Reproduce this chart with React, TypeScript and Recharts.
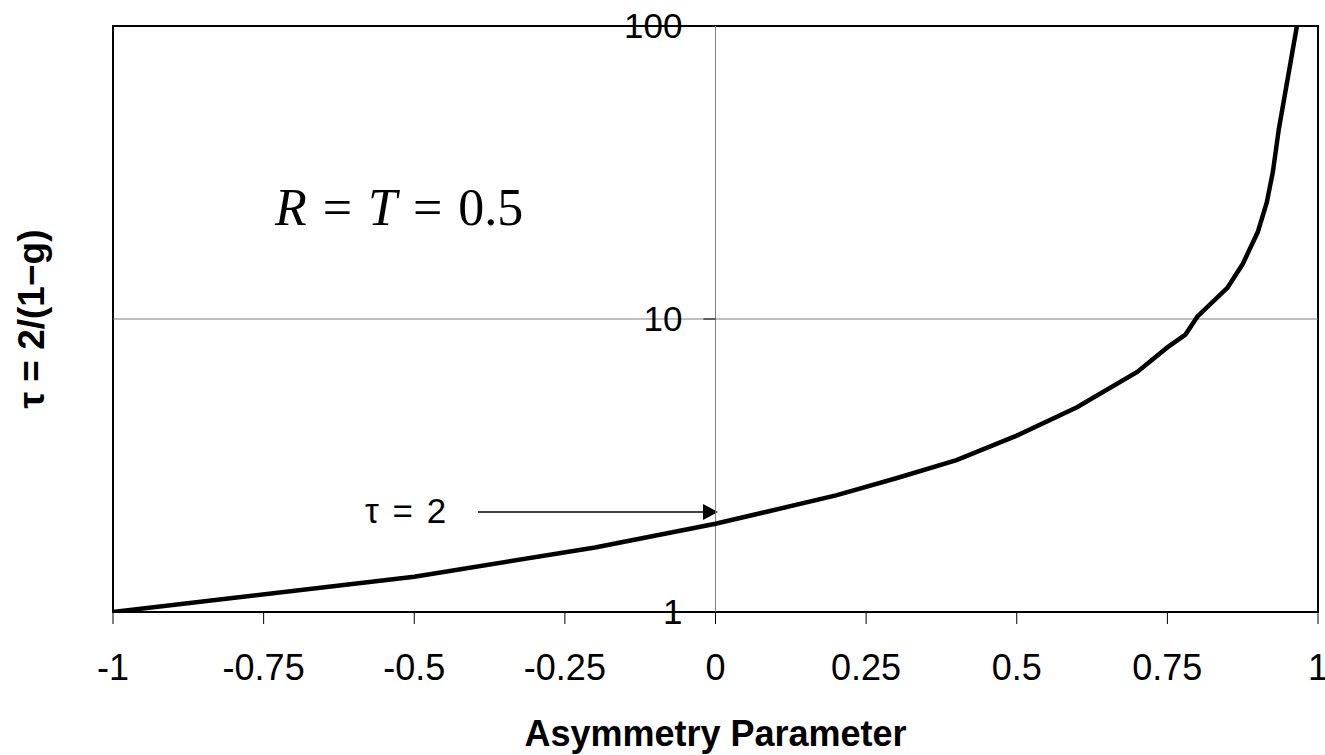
import { LineChart, Line, XAxis, YAxis, ReferenceLine, ReferenceArea, ReferenceDot } from 'recharts';

// asymmetry parameter g and optical depth tau = 2/(1-g)
const gValues = [-1, -0.5, -0.2, 0, 0.2, 0.3, 0.4, 0.5, 0.6, 0.7, 0.75, 0.78, 0.8, 0.85, 0.875, 0.9, 0.915, 0.925, 0.935, 0.965];
const tauValues = [1, 1.32, 1.66, 2, 2.5, 2.86, 3.3, 4, 5, 6.6, 8, 8.85, 10.2, 12.8, 15.4, 19.8, 25, 31.7, 44.5, 100];

const xTicks = [-1, -0.75, -0.5, -0.25, 0, 0.25, 0.5, 0.75, 1];
const yTicks = [1, 10, 100];

const data = gValues.map((g, i) => ({ g, tau: tauValues[i] }));

const SANS = '"Liberation Sans", Arial, sans-serif';
const SERIF = '"Liberation Serif", "Times New Roman", serif';

function YTitle(props: any) {
  const vb = props.viewBox;
  const cx = vb.x + 44;
  const cy = vb.y + vb.height / 2;
  return (
    <text x={cx} y={cy} transform={`rotate(-90, ${cx}, ${cy})`} textAnchor="middle"
      fontFamily={SANS} fontSize={37} fontWeight="bold" fill="#000">
      τ = 2/(1−g)
    </text>
  );
}

function XTitle(props: any) {
  const vb = props.viewBox;
  return (
    <text x={vb.x + vb.width / 2} y={vb.y + 134} textAnchor="middle"
      fontFamily={SANS} fontSize={36} fontWeight="bold" fill="#000">
      Asymmetry Parameter
    </text>
  );
}

export default function App() {
  return (
    <div style={{ position: 'absolute', left: 0, top: 0, width: 1325, height: 755, background: '#fff' }}>
      <LineChart width={1325} height={755} data={data} margin={{ top: 26, right: 7, bottom: 0, left: 0 }}>
        <XAxis
          dataKey="g"
          type="number"
          domain={[-1, 1]}
          ticks={xTicks}
          height={143}
          axisLine={false}
          tickLine={{ stroke: '#000', strokeWidth: 1 }}
          tickSize={12}
          tickMargin={30}
          tick={{ fontSize: 36, fill: '#000', fontFamily: SANS }}
          interval={0}
          label={<XTitle />}
        />
        <YAxis
          type="number"
          scale="log"
          domain={[1, 100]}
          ticks={yTicks}
          allowDataOverflow
          width={113}
          axisLine={false}
          tickLine={false}
          tick={false}
          label={<YTitle />}
        />
        <ReferenceLine y={10} stroke="#808080" strokeWidth={1} />
        <ReferenceLine x={0} stroke="#808080" strokeWidth={1} />
        <ReferenceLine segment={[{ x: -0.02, y: 10 }, { x: 0, y: 10 }]} stroke="#000" strokeWidth={1} />
        {yTicks.map((v) => (
          <ReferenceDot key={v} x={0} y={v} r={0} fill="none" stroke="none"
            label={{ value: String(v), position: 'left', offset: 33, fontSize: 35, fill: '#000', fontFamily: SANS }} />
        ))}
        <ReferenceArea x1={-1} x2={1} y1={1} y2={100} fill="none" stroke="#000" strokeWidth={2} fillOpacity={0} />
        <Line type="linear" dataKey="tau" stroke="#000" strokeWidth={4.5} dot={false} isAnimationActive={false} />
        <text x={275} y={225} fontFamily={SERIF} fontSize={52} fill="#000" wordSpacing={3}>
          <tspan fontStyle="italic">R</tspan>
          <tspan> = </tspan>
          <tspan fontStyle="italic">T</tspan>
          <tspan> = 0.5</tspan>
        </text>
        <text x={365} y={523} fontFamily={SANS} fontSize={35} fill="#000" wordSpacing={4}>τ = 2</text>
        <line x1={478} y1={512} x2={704} y2={512} stroke="#000" strokeWidth={1.5} />
        <polygon points="703,504 718,512 703,520" fill="#000" />
      </LineChart>
    </div>
  );
}
